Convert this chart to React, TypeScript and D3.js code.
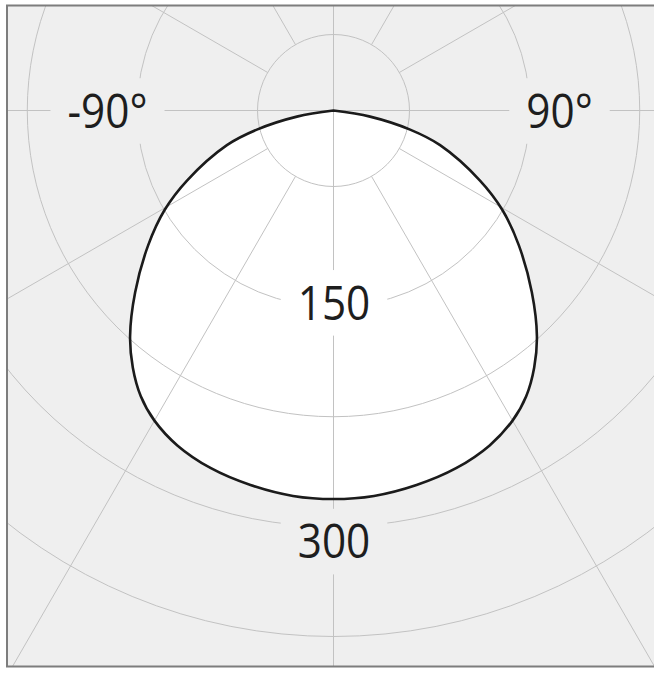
import React, { useEffect, useRef } from "react";
import * as d3 from "d3";

// luminous intensity (cd), 0° = straight down, symmetric
const curveAngles = [0, 6, 12.5, 19, 25, 30, 34, 38, 42, 47.5, 54, 59.5, 64.5, 72, 76, 80.5, 90];
const curveValues = [281.2, 280.5, 277.8, 274, 268.2, 260.4, 251.2, 238.5, 223.5, 199.6, 172.3, 149.8, 126.6, 92.5, 69.9, 41.3, 16];

const ringValues = [150, 225, 300, 375];
const ringLabels = ["150", "300"];
const ringLabelValues = [150, 300];
const spokeAngles = [30, 60, 120, 150, 210, 240, 300, 330];
const axisLabels = ["-90°", "90°"];
const axisLabelAngles = [-90, 90];

const W = 654;
const H = 673;

const PolarChart = () => {
  const ref = useRef<HTMLDivElement>(null);

  useEffect(() => {
    document.body.style.margin = "0";
    const cx = 333.5;
    const cy = 110.5;
    const hubR = 76;
    const fontSize = 47;
    const capH = fontSize * 0.714;
    const bg = "#efefef";
    const gridColor = "#c2c2c2";

    d3.select(ref.current).select("svg").remove();

    const svg = d3
      .select(ref.current)
      .append("svg")
      .attr("width", W)
      .attr("height", H)
      .style("display", "block");

    svg
      .append("defs")
      .append("clipPath")
      .attr("id", "frame")
      .append("rect")
      .attr("x", 7)
      .attr("y", 5.5)
      .attr("width", 660)
      .attr("height", 661);

    const r = d3.scaleLinear().domain([16, 375]).range([0, 526]);

    const root = svg.append("g").attr("clip-path", "url(#frame)");
    root.append("rect").attr("x", 0).attr("y", 0).attr("width", W).attr("height", H).attr("fill", bg);

    const g = root.append("g").attr("transform", `translate(${cx},${cy})`);

    // full curve: mirror the measured half
    const pts: [number, number][] = [];
    for (let i = curveAngles.length - 1; i > 0; i--) pts.push([-curveAngles[i], curveValues[i]]);
    for (let i = 0; i < curveAngles.length; i++) pts.push([curveAngles[i], curveValues[i]]);

    const line = d3
      .lineRadial<[number, number]>()
      .angle((d) => Math.PI - (d[0] * Math.PI) / 180)
      .radius((d) => Math.max(0, r(d[1])))
      .curve(d3.curveCatmullRom.alpha(0.5));

    g.append("path").attr("d", line(pts) + "Z").attr("fill", "#fff").attr("stroke", "none");

    // grid
    const grid = g.append("g").attr("fill", "none").attr("stroke", gridColor).attr("stroke-width", 1);
    grid.append("circle").attr("r", hubR);
    grid
      .selectAll("circle.ring")
      .data(ringValues)
      .enter()
      .append("circle")
      .attr("class", "ring")
      .attr("r", (d) => r(d));
    grid.append("line").attr("x1", -800).attr("x2", 800).attr("y1", 0).attr("y2", 0);
    grid.append("line").attr("y1", -800).attr("y2", 800).attr("x1", 0).attr("x2", 0);
    grid
      .selectAll("line.spoke")
      .data(spokeAngles)
      .enter()
      .append("line")
      .attr("class", "spoke")
      .attr("x1", (d) => hubR * Math.sin((d * Math.PI) / 180))
      .attr("y1", (d) => hubR * Math.cos((d * Math.PI) / 180))
      .attr("x2", (d) => 900 * Math.sin((d * Math.PI) / 180))
      .attr("y2", (d) => 900 * Math.cos((d * Math.PI) / 180));

    g.append("path")
      .attr("d", line(pts) + "Z")
      .attr("fill", "none")
      .attr("stroke", "#1b1b1b")
      .attr("stroke-width", 2.6)
      .attr("stroke-linejoin", "round");

    const addLabel = (text: string, x: number, baseline: number, knock: string) => {
      const lg = g.append("g").attr("transform", `translate(${x},${baseline}) scale(0.9,1)`);
      const rect = lg.append("rect").attr("fill", knock);
      const t = lg
        .append("text")
        .attr("text-anchor", "middle")
        .style("font-family", "'Open Sans', 'Noto Sans', sans-serif")
        .style("font-size", `${fontSize}px`)
        .attr("fill", "#1e1e1e")
        .text(text);
      const w = (t.node() as SVGTextElement).getComputedTextLength();
      const padX = 17 / 0.9;
      const padY = 16;
      rect
        .attr("x", -w / 2 - padX)
        .attr("y", -capH - padY)
        .attr("width", w + 2 * padX)
        .attr("height", capH + 2 * padY);
    };

    axisLabels.forEach((txt, i) => {
      const a = axisLabelAngles[i];
      addLabel(txt, 226 * Math.sin((a * Math.PI) / 180), capH / 2 + 0.5, bg);
    });

    const ringLabelShift = [-4, 15];
    ringLabels.forEach((txt, i) => {
      addLabel(txt, 0.5, r(ringLabelValues[i]) + capH / 2 + ringLabelShift[i], i === 0 ? "#fff" : bg);
    });

    svg
      .append("rect")
      .attr("x", 7)
      .attr("y", 5.5)
      .attr("width", 660)
      .attr("height", 661)
      .attr("fill", "none")
      .attr("stroke", "#7d7d7d")
      .attr("stroke-width", 2);
  }, []);

  return <div ref={ref}></div>;
};

export default function App() {
  return <PolarChart />;
}
